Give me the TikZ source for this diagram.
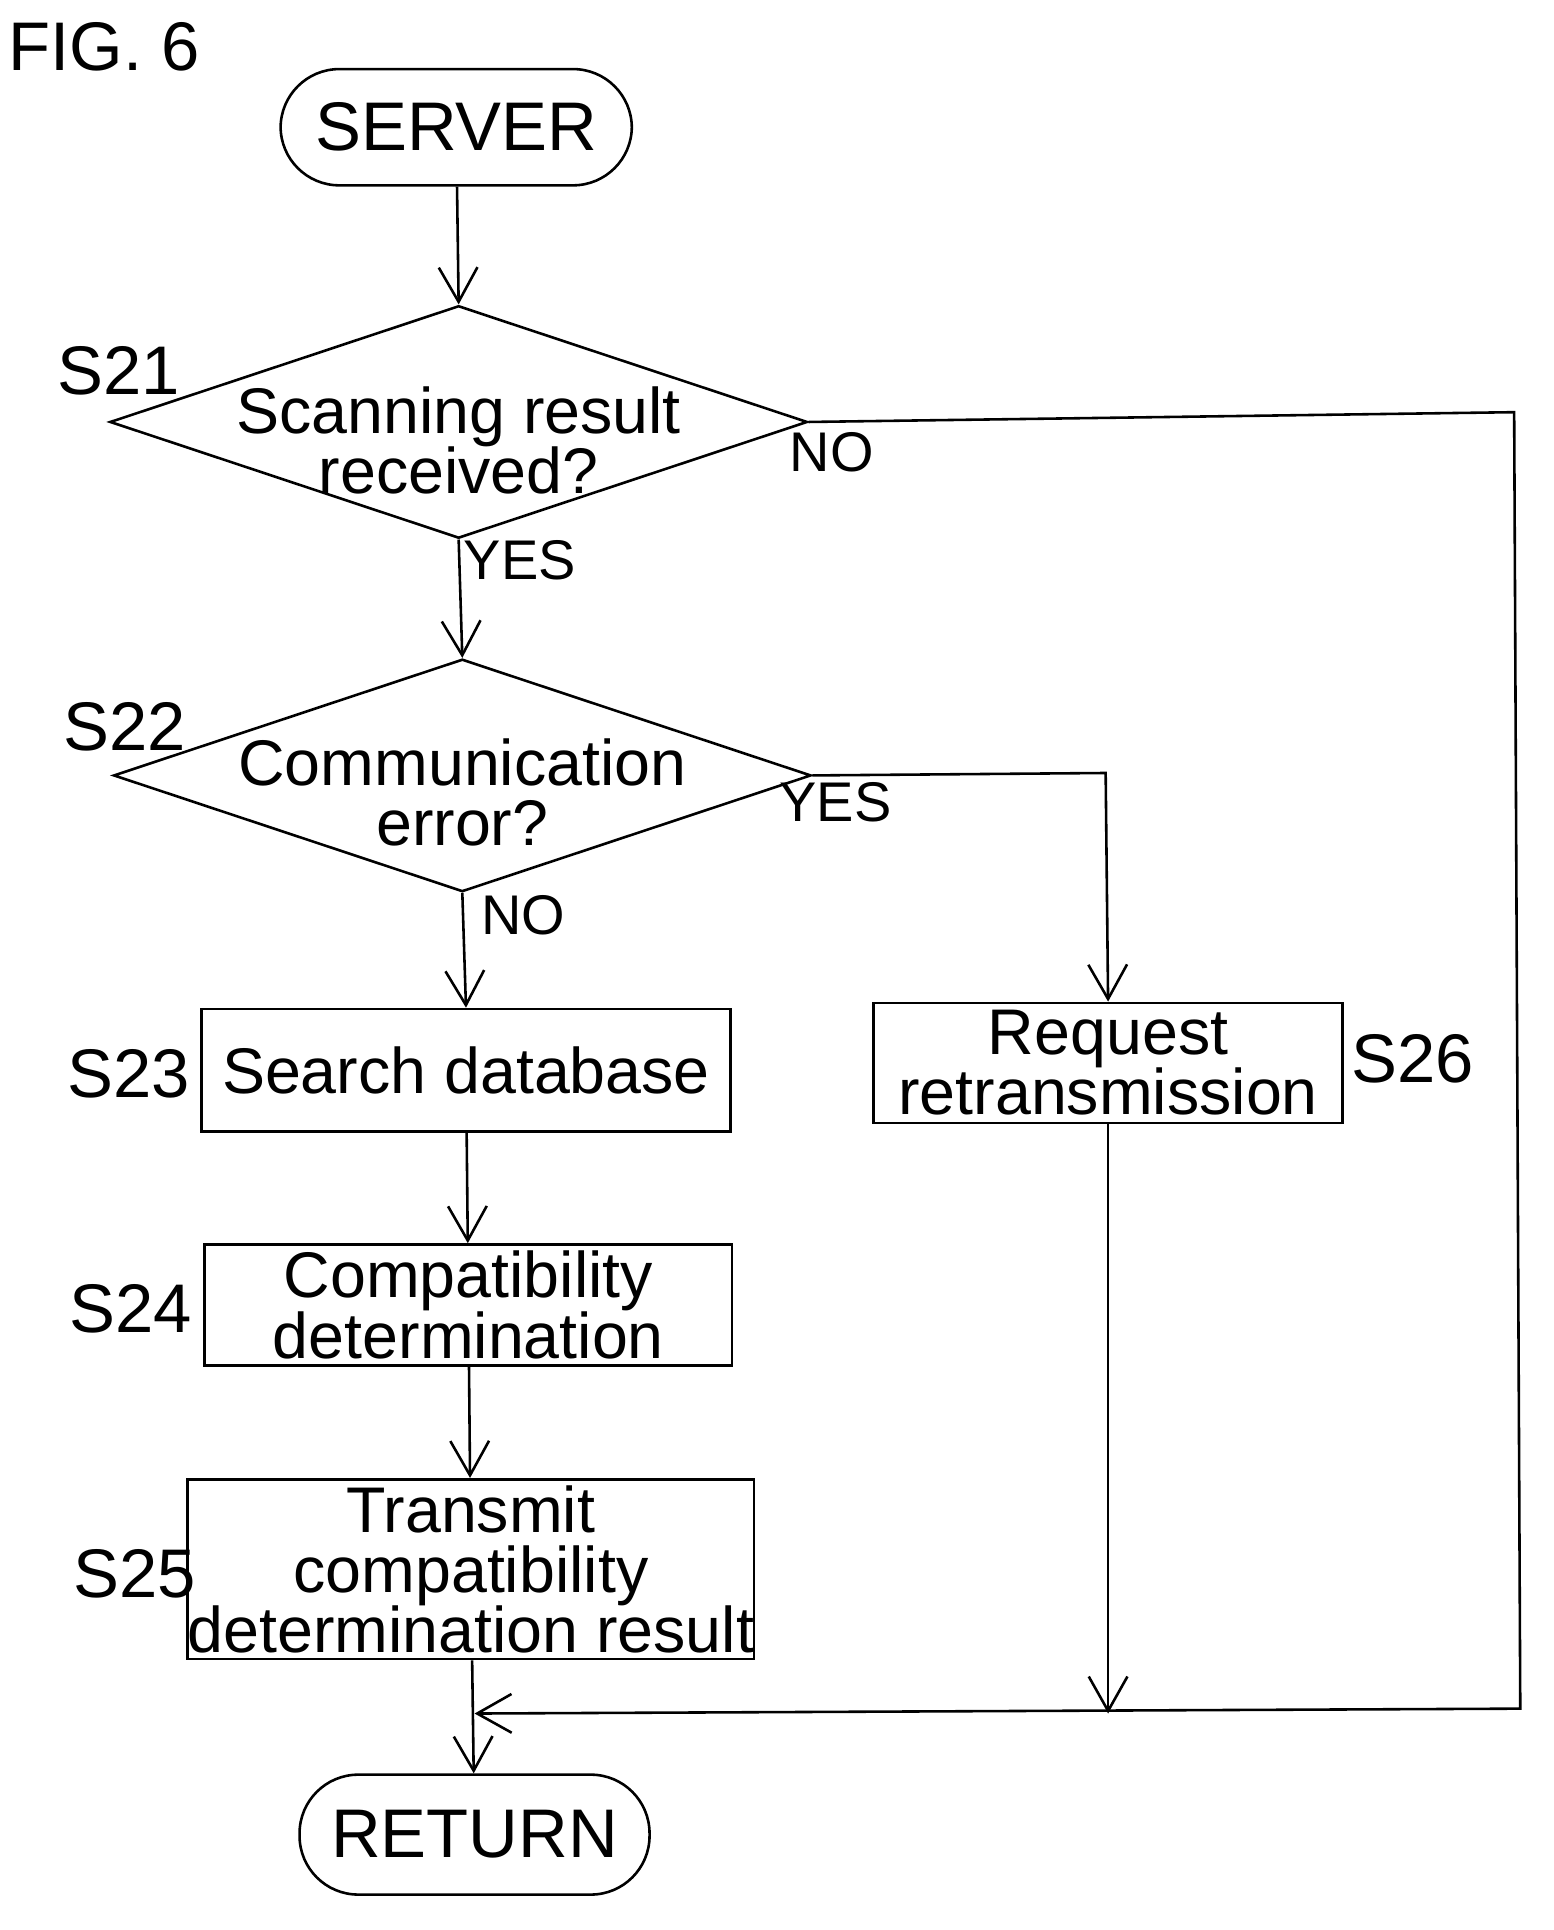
\documentclass[tikz,border=0pt]{standalone}
\usepackage{fontspec}
\setmainfont{Liberation Sans}
\usetikzlibrary{shapes.geometric,arrows.meta}
\tikzset{
  flow/.style={-{Straight Barb[length=8pt,width=9pt]}},
  proc/.style={draw,rectangle,inner sep=0pt,align=center,font=\fontsize{15}{16}\selectfont},
  term/.style={draw,rectangle,rounded corners=0.48cm,inner sep=0pt,font=\fontsize{16}{18}\selectfont},
  decide/.style={draw,diamond,inner sep=0pt,minimum width=5.7cm,minimum height=1.9cm},
  tag/.style={font=\fontsize{16}{18}\selectfont},
  answer/.style={font=\fontsize{13}{14}\selectfont}
}
\begin{document}
\begin{tikzpicture}[x=0.01cm,y=-0.01cm,line width=0.6pt]
\useasboundingbox (0,0) rectangle (1270,1578);
\node[tag] (fig) at (85,38) {FIG. 6};
% start and end
\node[term,minimum width=2.87cm,minimum height=0.95cm] (server) at (373,104) {SERVER};
\node[term,minimum width=2.86cm,minimum height=0.98cm] (ret) at (388,1500) {RETURN};
% decisions
\node[decide] (s21) at (375,345) {};
\node[proc,draw=none] (t21) at (375,360) {Scanning result\\[-2pt]received?};
\node[tag] (l21) at (97,303) {S21};
\node[decide] (s22) at (378,634) {};
\node[proc,draw=none] (t22) at (378,648) {Communication\\[-2pt]error?};
\node[tag] (l22) at (102,594) {S22};
% processes
\node[proc,minimum width=4.32cm,minimum height=1.0cm] (s23) at (381,875) {Search database};
\node[tag] (l23) at (105,878) {S23};
\node[proc,minimum width=4.31cm,minimum height=0.99cm] (s24) at (383,1067) {Compatibility\\[-2pt]determination};
\node[tag] (l24) at (107,1070) {S24};
\node[proc,minimum width=4.31cm,minimum height=1.47cm] (s25) at (385,1283) {Transmit\\[-2pt]compatibility\\[-2pt]determination result};
\node[tag] (l25) at (110,1287) {S25};
\node[proc,minimum width=3.83cm,minimum height=0.98cm] (s26) at (906,869) {Request\\[-2pt]retransmission};
\node[tag] (l26) at (1155,866) {S26};
% answers
\node[answer] (no21) at (680,370) {NO};
\node[answer] (yes21) at (425,458) {YES};
\node[answer] (yes22) at (683,656) {YES};
\node[answer] (no22) at (428,748) {NO};
% corners
\coordinate (c1) at (1238,337);
\coordinate (c2) at (1243,1397);
\coordinate (m) at (388,1401);
\coordinate (c3) at (904,632);
% connectors
\draw[flow] (server) -- (s21.north);
\draw[flow] (s21.south) -- (s22.north);
\draw[flow] (s22.south) -- (s23.north);
\draw[flow] (s23) -- (s24);
\draw[flow] (s24) -- (s25);
\draw[flow] (s25) -- (ret);
\draw[flow] (s22.east) -- (c3) -- (s26.north);
\draw[flow] (s26.south) -- (s26.south |- m);
\draw[flow] (s21.east) -- (c1) -- (c2) -- (m);
\end{tikzpicture}
\end{document}
